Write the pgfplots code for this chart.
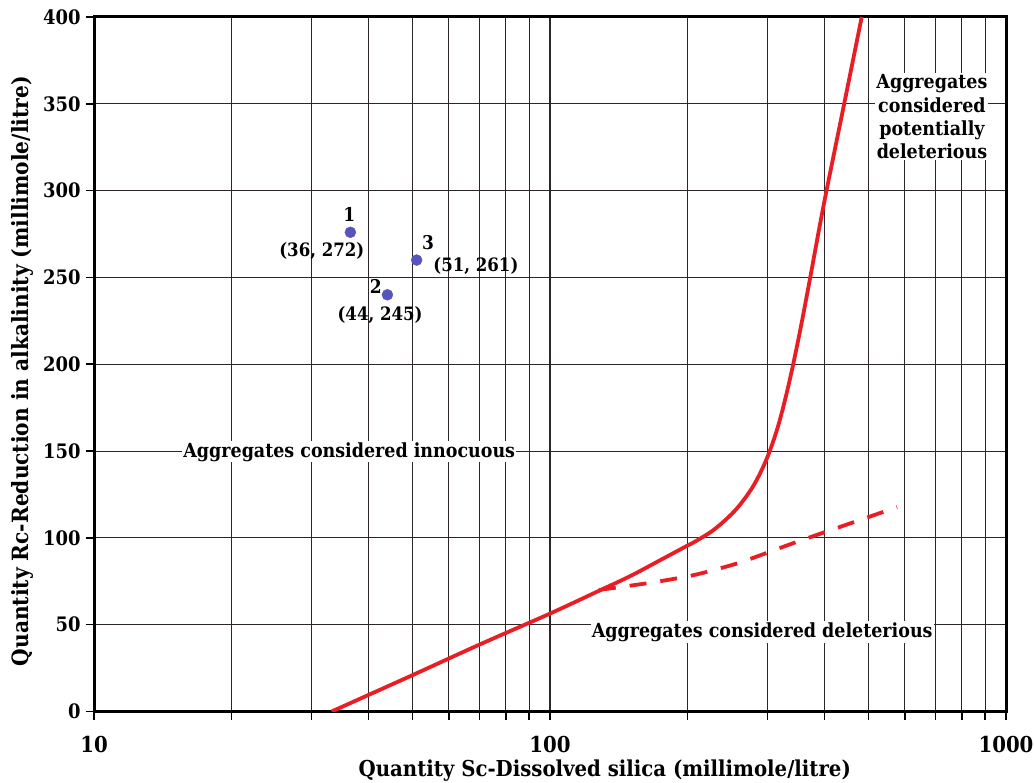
\documentclass[border=0pt]{standalone}
\usepackage{fontspec}
\setmainfont{DejaVu Serif Condensed}
\usepackage{pgfplots}
\pgfplotsset{compat=1.18}
\definecolor{curvered}{RGB}{232,30,36}
\definecolor{ptblue}{RGB}{85,85,190}
\definecolor{gridc}{RGB}{45,38,38}
\begin{document}
\begin{tikzpicture}
\useasboundingbox (-94bp,-71.5bp) rectangle (940bp,711.5bp);
\begin{axis}[
  scale only axis, width=912bp, height=694.5bp,
  xmode=log, log basis x=10,
  xmin=10, xmax=1000, ymin=0, ymax=400,
  xtick={10,100,1000}, xticklabels={10,100,1000},
  minor xtick={20,30,40,50,60,70,80,90,200,300,400,500,600,700,800,900},
  ytick={0,50,...,400},
  /pgf/number format/assume math mode=true,
  grid=both,
  major grid style={gridc, line width=1.1bp},
  minor grid style={gridc, line width=1.1bp},
  axis line style={black, line width=3bp},
  tick style={black, line width=1.5bp},
  tick align=outside, tick pos=left,
  major tick length=8bp, minor tick length=8bp,
  yticklabel style={font=\fontsize{20}{20}\selectfont\bfseries, xshift=-2bp},
  xticklabel style={font=\fontsize{22}{22}\selectfont\bfseries, yshift=-13bp},
  xlabel={Quantity Sc-Dissolved silica (millimole/litre)},
  ylabel={Quantity Rc-Reduction in alkalinity (millimole/litre)},
  xlabel style={font=\fontsize{22}{22}\selectfont\bfseries, at={(axis description cs:0.56,0)}, anchor=center, yshift=-59bp},
  ylabel style={font=\fontsize{22.5}{22.5}\selectfont\bfseries, at={(axis description cs:0,0.49)}, anchor=center, yshift=72bp},
  clip=true,
]
\addplot[curvered, line width=3.8bp, smooth, tension=0.55] coordinates {
 (33.2,0) (50,21) (70,38.5) (100,56.4) (128,69.5) (150,78) (174,87)
 (200,95.5) (206.9,97.5) (228.8,104.7) (253.2,115.1) (273.2,126.1) (287.3,135.9)
 (302.2,148.9) (317.8,166.1) (334.3,189.1) (351.6,216.1) (369.8,246.1)
 (398.9,292.6) (438.8,346.3) (482.6,400)};
\addplot[curvered, line width=3.8bp, smooth, dash pattern=on 17bp off 14bp] coordinates {
 (128,70) (160.8,73.6) (182.4,75.9) (206.9,78.6) (234.8,82.3) (266.4,86.6)
 (342.8,97.1) (441.2,107.1) (576.8,117.7)};
\addplot[only marks, mark=*, mark size=5.5bp, ptblue] coordinates {
 (36.5,276) (44,240) (51,260)};
\node[font=\fontsize{19}{19}\selectfont\bfseries] at (axis cs:36.3,286) {1};
\node[font=\fontsize{18.5}{18.5}\selectfont\bfseries] at (axis cs:31.6,265) {(36, 272)};
\node[font=\fontsize{19}{19}\selectfont\bfseries] at (axis cs:41.5,245) {2};
\node[font=\fontsize{18.5}{18.5}\selectfont\bfseries] at (axis cs:42.4,228.5) {(44, 245)};
\node[font=\fontsize{19}{19}\selectfont\bfseries] at (axis cs:54,270) {3};
\node[font=\fontsize{18.5}{18.5}\selectfont\bfseries] at (axis cs:68.8,256.6) {(51, 261)};
\node[font=\fontsize{19.5}{19.5}\selectfont\bfseries, fill=white, inner sep=1bp] at (axis cs:36.3,149.5) {Aggregates considered innocuous};
\node[font=\fontsize{19.5}{19.5}\selectfont\bfseries, fill=white, inner sep=1bp] at (axis cs:292,45.8) {Aggregates considered deleterious};
\node[font=\fontsize{19.5}{23.5}\selectfont\bfseries, fill=white, inner sep=1bp, align=center] at (axis cs:688,342.5) {Aggregates\\considered\\potentially\\deleterious};
\end{axis}
\end{tikzpicture}
\end{document}
